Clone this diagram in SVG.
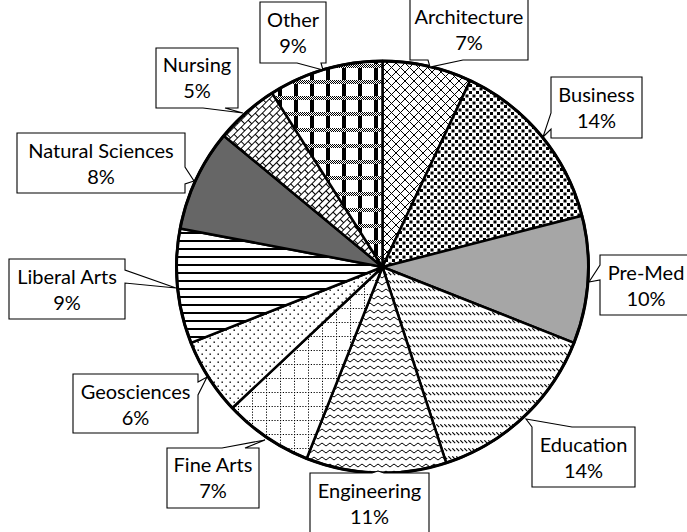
<svg xmlns="http://www.w3.org/2000/svg" width="687" height="532" viewBox="0 0 687 532">
<style>
.sl{stroke:#000;stroke-width:2.5;stroke-linejoin:round}
.co{fill:#fff;stroke:#000;stroke-width:1.1;stroke-linejoin:miter}
.t{font-family:Lato,"Liberation Sans",sans-serif;font-size:20px;fill:#000;text-anchor:middle}
</style>
<defs>
<pattern id="pArch" width="9" height="9" patternUnits="userSpaceOnUse"><rect width="9" height="9" fill="#fff"/><path d="M-1,-1 L10,10 M10,-1 L-1,10" stroke="#000" stroke-width="1"/></pattern>
<pattern id="pBus" width="7" height="7" patternUnits="userSpaceOnUse"><rect width="7" height="7" fill="#fff"/><rect x="0" y="0" width="3" height="3" fill="#000"/><rect x="3.5" y="3.5" width="3" height="3" fill="#000"/></pattern>
<pattern id="pEdu" width="4" height="8" patternUnits="userSpaceOnUse"><rect width="4" height="8" fill="#fff"/><path d="M0.3,0.3 L3.2,3.2" stroke="#000" stroke-width="1.1"/></pattern>
<pattern id="pEng" width="8" height="7" patternUnits="userSpaceOnUse"><rect width="8" height="7" fill="#fff"/><path d="M0,3.5 Q2,0.5 4,3.5 T8,3.5" fill="none" stroke="#000" stroke-width="1"/></pattern>
<pattern id="pFine" width="14" height="14" patternUnits="userSpaceOnUse"><rect width="14" height="14" fill="#fff"/><path d="M0,0.5 H14 M0.5,0 V14" stroke="#000" stroke-width="1" stroke-dasharray="1.2 1.6"/></pattern>
<pattern id="pGeo" width="8" height="8" patternUnits="userSpaceOnUse"><rect width="8" height="8" fill="#fff"/><rect x="1.5" y="1.5" width="1.4" height="1.4" fill="#000"/><rect x="5.5" y="5.5" width="1.4" height="1.4" fill="#000"/></pattern>
<pattern id="pLib" width="8" height="8" patternUnits="userSpaceOnUse"><rect width="8" height="8" fill="#fff"/><rect x="0" y="0" width="8" height="2" fill="#000"/></pattern>
<pattern id="pNur" width="10" height="10" patternUnits="userSpaceOnUse" patternTransform="rotate(-45)"><rect width="10" height="10" fill="#fff"/><path d="M0,0.5 H10 M0,5.5 H10 M0.5,0.5 V5.5 M5.5,5.5 V10.5" stroke="#000" stroke-width="1"/></pattern>
<pattern id="pChk" width="2" height="2" patternUnits="userSpaceOnUse"><rect width="2" height="2" fill="#fff"/><rect width="1" height="1" fill="#000"/><rect x="1" y="1" width="1" height="1" fill="#000"/></pattern>
<pattern id="pOth" width="16" height="16" patternUnits="userSpaceOnUse"><rect width="16" height="16" fill="#fff"/><rect x="6" y="0" width="4" height="16" fill="#000"/><rect x="0" y="0" width="16" height="4" fill="url(#pChk)"/></pattern>
</defs>
<rect width="687" height="532" fill="#fff"/>
<g id="pie">
<g id="slice-architecture"><path class="sl" fill="url(#pArch)" d="M382.5,267 L382.5,61 A206,206 0 0 1 470.2,80.6 Z"/></g>
<g id="slice-business"><path class="sl" fill="url(#pBus)" d="M382.5,267 L470.2,80.6 A206,206 0 0 1 582,215.8 Z"/></g>
<g id="slice-premed"><path class="sl" fill="#a6a6a6" d="M382.5,267 L582,215.8 A206,206 0 0 1 574,342.8 Z"/></g>
<g id="slice-education"><path class="sl" fill="url(#pEdu)" d="M382.5,267 L574,342.8 A206,206 0 0 1 446.2,462.9 Z"/></g>
<g id="slice-engineering"><path class="sl" fill="url(#pEng)" d="M382.5,267 L446.2,462.9 A206,206 0 0 1 306.7,458.5 Z"/></g>
<g id="slice-finearts"><path class="sl" fill="url(#pFine)" d="M382.5,267 L306.7,458.5 A206,206 0 0 1 232.3,408 Z"/></g>
<g id="slice-geosciences"><path class="sl" fill="url(#pGeo)" d="M382.5,267 L232.3,408 A206,206 0 0 1 191,342.8 Z"/></g>
<g id="slice-liberalarts"><path class="sl" fill="url(#pLib)" d="M382.5,267 L191,342.8 A206,206 0 0 1 180.1,228.4 Z"/></g>
<g id="slice-naturalsciences"><path class="sl" fill="#666666" d="M382.5,267 L180.1,228.4 A206,206 0 0 1 223.8,135.7 Z"/></g>
<g id="slice-nursing"><path class="sl" fill="url(#pNur)" d="M382.5,267 L223.8,135.7 A206,206 0 0 1 272.1,93.1 Z"/></g>
<g id="slice-other"><path class="sl" fill="url(#pOth)" d="M382.5,267 L272.1,93.1 A206,206 0 0 1 382.5,61 Z"/></g>
<circle cx="382.5" cy="267" r="206" fill="none" stroke="#000" stroke-width="3"/>
</g>
<g id="connectors"></g>
<g id="label-architecture"><path class="co" d="M410,-1 H528 V60 H463 L430,67 L428,60 H410 Z"/><text class="t" x="469" y="24">Architecture</text><text class="t" x="469" y="50">7%</text></g>
<g id="label-business"><path class="co" d="M551,77 H642 V138 H551 V129 L543,137 L551,113 Z"/><text class="t" x="596.5" y="102">Business</text><text class="t" x="596.5" y="128">14%</text></g>
<g id="label-premed"><path class="co" d="M600,255 H692 V315 H600 V280 L589,282 L600,265 Z"/><text class="t" x="646" y="280">Pre-Med</text><text class="t" x="646" y="306">10%</text></g>
<g id="label-education"><path class="co" d="M532,427 L526,419 L572,427 H635 V487 H532 Z"/><text class="t" x="583.5" y="452">Education</text><text class="t" x="583.5" y="478">14%</text></g>
<g id="label-engineering"><path class="co" d="M310,473 H372 L378,471 L384,473 H429 V535 H310 Z"/><text class="t" x="369.5" y="498">Engineering</text><text class="t" x="369.5" y="524">11%</text></g>
<g id="label-finearts"><path class="co" d="M167,448 H222 L265,440 L245,448 H259 V508 H167 Z"/><text class="t" x="213" y="472">Fine Arts</text><text class="t" x="213" y="498">7%</text></g>
<g id="label-geosciences"><path class="co" d="M73,374 H198 V382 L207,377 L198,395 V433 H73 Z"/><text class="t" x="135.5" y="399">Geosciences</text><text class="t" x="135.5" y="425">6%</text></g>
<g id="label-liberalarts"><path class="co" d="M9,259 H125 V270 L176,288 L125,283 V319 H9 Z"/><text class="t" x="67" y="284">Liberal Arts</text><text class="t" x="67" y="310">9%</text></g>
<g id="label-naturalsciences"><path class="co" d="M17,133 H185 V167 L194,181 L185,184 V193 H17 Z"/><text class="t" x="101" y="158">Natural Sciences</text><text class="t" x="101" y="184">8%</text></g>
<g id="label-nursing"><path class="co" d="M156,48 H238 V108 H225 L243,113 L203,108 H156 Z"/><text class="t" x="197" y="72">Nursing</text><text class="t" x="197" y="98">5%</text></g>
<g id="label-other"><path class="co" d="M260,2 H326 V63 H321 L323,70 L297,63 H260 Z"/><text class="t" x="293" y="27">Other</text><text class="t" x="293" y="53">9%</text></g>
</svg>
